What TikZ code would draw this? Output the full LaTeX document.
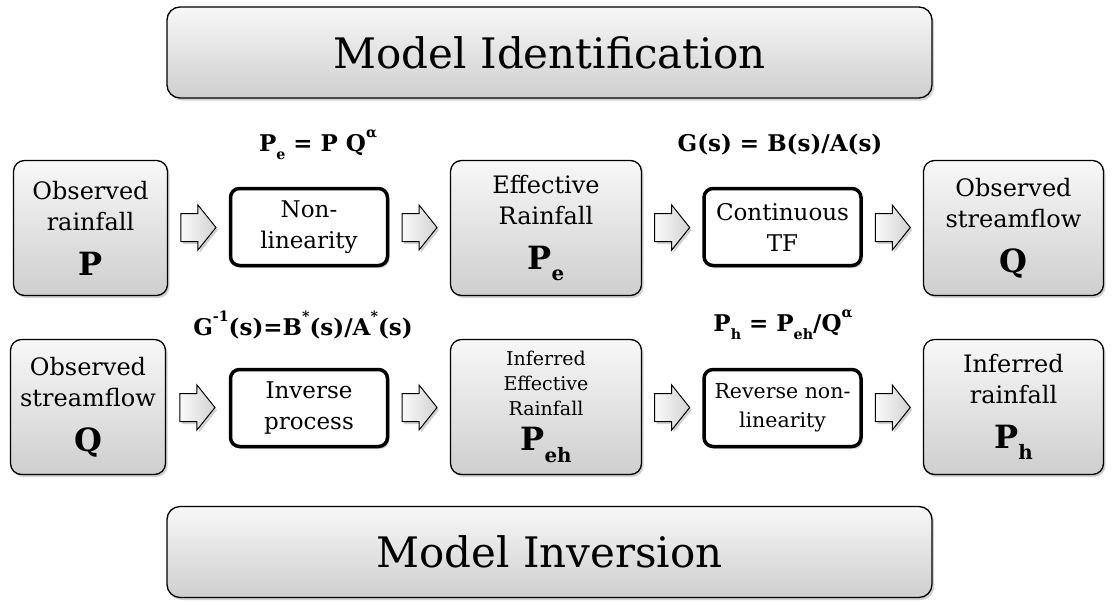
\documentclass[tikz,border=0pt]{standalone}
\usepackage{fontspec}
\setmainfont{DejaVu Serif}
\usetikzlibrary{calc,shadows}
\newcommand{\lowsub}[1]{\raisebox{-.35em}{\scalebox{.62}{#1}}}
\newcommand{\highsup}[1]{\raisebox{.62em}{\scalebox{.62}{#1}}}
\begin{document}
\begin{tikzpicture}[x=1pt,y=-1pt,
  softshadow/.style={drop shadow={shadow xshift=2pt,shadow yshift=-2.5pt,opacity=.35}},
  bigbox/.style={draw=black,line width=1.3pt,rounded corners=13pt,top color=gray!6,bottom color=gray!38,softshadow,
    minimum width=765pt,minimum height=91pt,font=\fontsize{42}{44}\selectfont},
  databox/.style={draw=black,line width=1.3pt,rounded corners=11pt,top color=gray!6,bottom color=gray!38,softshadow,
    minimum height=135pt,align=center,inner sep=0pt,font=\fontsize{24}{31}\selectfont},
  procbox/.style={draw=black,line width=3.5pt,rounded corners=9pt,fill=white,softshadow,
    minimum width=157pt,minimum height=77pt,align=center,inner sep=0pt,font=\fontsize{23}{31}\selectfont},
  blockarrow/.style={draw=black,line width=1pt,left color=gray!4,right color=gray!35,softshadow},
  formula/.style={font=\fontsize{23}{23}\selectfont\bfseries}]
  \useasboundingbox[fill=white] (0,0) rectangle (1112,603);
  % Titel-Kaesten
  \node[bigbox] (ident) at (549.5,52.5) {Model Identification};
  \node[bigbox] (invers) at (549.5,552) {Model Inversion};
  % Obere Reihe: Identifikation
  \node[databox,minimum width=154pt] (obsP) at (90.5,228)
    {Observed\\rainfall\\[14pt]{\fontsize{32}{32}\selectfont\bfseries P}};
  \node[procbox] (nonlin) at (309,227) {Non-\\linearity};
  \node[databox,minimum width=191pt] (effP) at (546,228)
    {Effective\\Rainfall\\[14pt]{\fontsize{32}{32}\selectfont\bfseries P\lowsub{e}}};
  \node[procbox] (conttf) at (782.5,227) {Continuous\\TF};
  \node[databox,minimum width=180pt] (obsQ) at (1013.5,228)
    {Observed\\streamflow\\[14pt]{\fontsize{32}{32}\selectfont\bfseries Q}};
  % Untere Reihe: Inversion
  \node[databox,minimum width=155pt] (obsQb) at (88,407)
    {Observed\\streamflow\\[14pt]{\fontsize{32}{32}\selectfont\bfseries Q}};
  \node[procbox] (invproc) at (309,408) {Inverse\\process};
  \node[databox,minimum width=191pt,font=\fontsize{19}{25}\selectfont] (infeff) at (546,407)
    {Inferred\\Effective\\Rainfall\\[10pt]{\fontsize{32}{32}\selectfont\bfseries P\lowsub{eh}}};
  \node[procbox,font=\fontsize{20.5}{29}\selectfont] (revnl) at (782.5,408) {Reverse non-\\linearity};
  \node[databox,minimum width=180pt] (infP) at (1013.5,407)
    {Inferred\\rainfall\\[14pt]{\fontsize{32}{32}\selectfont\bfseries P\lowsub{h}}};
  % Blockpfeile zwischen den Kaesten
  \foreach \src/\dst/\nm in {obsP/nonlin/a1,nonlin/effP/a2,effP/conttf/a3,conttf/obsQ/a4,
                             obsQb/invproc/b1,invproc/infeff/b2,infeff/revnl/b3,revnl/infP/b4}{
    \coordinate (\nm) at ($(\src.east)!.5!(\dst.west)$);
    \draw[blockarrow] ([shift={(-17.5,-14)}]\nm) -- ++(17,0) -- ++(0,-8.5) -- ++(18,22.5)
      -- ++(-18,22.5) -- ++(0,-8.5) -- ++(-17,0) -- cycle;
  }
  % Gleichungen
  \node[formula] (eqa) at (318,145) {P\lowsub{e} = P Q\highsup{α}};
  \node[formula] (eqb) at (780,145) {G(s) = B(s)/A(s)};
  \node[formula] (eqc) at (303,325) {G\highsup{-1}(s)=B\highsup{*}(s)/A\highsup{*}(s)};
  \node[formula] (eqd) at (783,325) {P\lowsub{h} = P\lowsub{eh}/Q\highsup{α}};
\end{tikzpicture}
\end{document}
